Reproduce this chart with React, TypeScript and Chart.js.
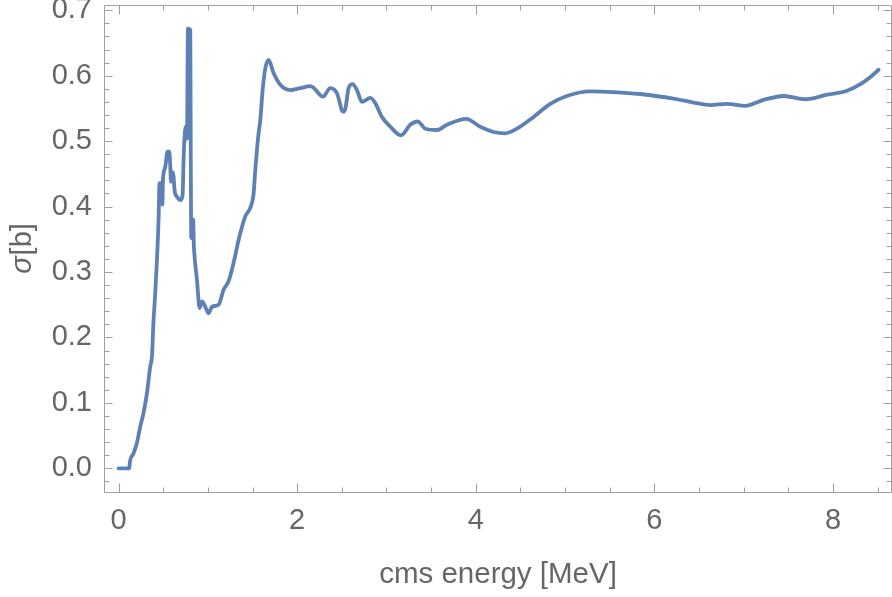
import React, { useEffect, useRef } from "react";
import { Chart, registerables } from "chart.js";

Chart.register(...registerables);

// cms energy [MeV]
const energy = [
  0, 0.12, 0.125, 0.168, 0.206, 0.243, 0.28, 0.318, 0.355, 0.374, 0.392, 0.411,
  0.43, 0.448, 0.459, 0.484, 0.49, 0.497, 0.504, 0.523, 0.549, 0.568, 0.579,
  0.587, 0.598, 0.616, 0.627, 0.654, 0.699, 0.717, 0.728, 0.739, 0.758, 0.766,
  0.777, 0.803, 0.808, 0.814, 0.82, 0.836, 0.842, 0.848, 0.878, 0.907, 0.934,
  0.971, 1.008, 1.046, 1.12, 1.176, 1.232, 1.288, 1.344, 1.419, 1.475, 1.512,
  1.531, 1.55, 1.568, 1.587, 1.613, 1.643, 1.68, 1.736, 1.811, 1.923, 2.035,
  2.147, 2.18, 2.289, 2.371, 2.446, 2.513, 2.54, 2.576, 2.62, 2.669, 2.725,
  2.819, 2.875, 2.949, 3.043, 3.162, 3.266, 3.349, 3.386, 3.434, 3.565, 3.677,
  3.893, 4.05, 4.2, 4.33, 4.461, 4.647, 4.834, 5.02, 5.28, 5.54, 5.84, 6.253,
  6.439, 6.626, 6.813, 7.018, 7.223, 7.447, 7.69, 7.933, 8.157, 8.306, 8.418,
  8.51,
];

// σ [b]
const sigma = [
  0, 0, 0.008, 0.023, 0.039, 0.064, 0.085, 0.115, 0.156, 0.171, 0.227, 0.268,
  0.319, 0.38, 0.436, 0.436, 0.403, 0.44, 0.451, 0.461, 0.484, 0.484, 0.461,
  0.438, 0.453, 0.446, 0.425, 0.415, 0.41, 0.418, 0.471, 0.507, 0.522, 0.504,
  0.672, 0.67, 0.5, 0.352, 0.38, 0.38, 0.345, 0.329, 0.288, 0.245, 0.255,
  0.247, 0.237, 0.247, 0.25, 0.273, 0.286, 0.314, 0.349, 0.385, 0.398, 0.42,
  0.456, 0.487, 0.512, 0.532, 0.578, 0.611, 0.624, 0.604, 0.586, 0.578, 0.581,
  0.584, 0.582, 0.568, 0.581, 0.573, 0.545, 0.55, 0.581, 0.587, 0.578, 0.56,
  0.566, 0.558, 0.537, 0.522, 0.509, 0.525, 0.53, 0.526, 0.519, 0.517, 0.525,
  0.534, 0.522, 0.514, 0.512, 0.519, 0.537, 0.557, 0.569, 0.576, 0.575, 0.572,
  0.564, 0.559, 0.555, 0.557, 0.554, 0.563, 0.569, 0.564, 0.571, 0.577, 0.587,
  0.598, 0.609,
];

const xMajorTicks = [0, 2, 4, 6, 8];
const xMinorTicks = [0.5, 1, 1.5, 2.5, 3, 3.5, 4.5, 5, 5.5, 6.5, 7, 7.5, 8.5];
const yMajorTicks = [0, 0.1, 0.2, 0.3, 0.4, 0.5, 0.6, 0.7];
const yMinorTicks = [
  -0.02, 0.02, 0.04, 0.06, 0.08, 0.12, 0.14, 0.16, 0.18, 0.22, 0.24, 0.26, 0.28,
  0.32, 0.34, 0.36, 0.38, 0.42, 0.44, 0.46, 0.48, 0.52, 0.54, 0.56, 0.58, 0.62,
  0.64, 0.66, 0.68,
];

const xTitle = "cms energy [MeV]";
const yTitleSymbol = "σ";
const yTitleUnit = "[b]";

const X_MIN = -0.163;
const X_MAX = 8.66;
const Y_MIN = -0.0376;
const Y_MAX = 0.708;

const LINE_COLOR = "rgb(94,129,181)";
const FRAME_COLOR = "#a0a0a0";
const TEXT_COLOR = "#666666";
const FONT_FAMILY = "'Liberation Sans', Arial, Helvetica, sans-serif";

const framePlugin = {
  id: "mmaFrame",
  beforeDatasetsDraw(chart: any) {
    const { ctx, chartArea: a, scales } = chart;
    const xs = scales.x;
    const ys = scales.y;
    ctx.save();
    ctx.strokeStyle = FRAME_COLOR;
    ctx.lineWidth = 1;
    const L = Math.round(a.left) + 0.5;
    const R = Math.round(a.right) - 0.5;
    const T = Math.round(a.top) + 0.5;
    const B = Math.round(a.bottom) - 0.5;
    ctx.beginPath();
    ctx.moveTo(L, T);
    ctx.lineTo(R, T);
    ctx.lineTo(R, B);
    ctx.lineTo(L, B);
    ctx.closePath();
    ctx.stroke();

    const xTick = (v: number, len: number) => {
      const px = Math.round(xs.getPixelForValue(v)) + 0.5;
      ctx.moveTo(px, B);
      ctx.lineTo(px, B - len);
      ctx.moveTo(px, T);
      ctx.lineTo(px, T + len);
    };
    const yTick = (v: number, len: number) => {
      const py = Math.round(ys.getPixelForValue(v)) + 0.5;
      ctx.moveTo(L, py);
      ctx.lineTo(L + len, py);
      ctx.moveTo(R, py);
      ctx.lineTo(R - len, py);
    };
    ctx.beginPath();
    xMajorTicks.forEach((v) => xTick(v, 9));
    xMinorTicks.forEach((v) => xTick(v, 5));
    yMajorTicks.forEach((v) => yTick(v, 8));
    yMinorTicks.forEach((v) => yTick(v, 5));
    ctx.stroke();
    ctx.restore();
  },
  afterDraw(chart: any) {
    // y-axis title with italic sigma, centred on the plot frame
    const { ctx, chartArea: a } = chart;
    const cy = (a.top + a.bottom) / 2;
    const cx = 23;
    ctx.save();
    ctx.translate(cx, cy);
    ctx.rotate(-Math.PI / 2);
    ctx.fillStyle = TEXT_COLOR;
    ctx.textBaseline = "middle";
    ctx.textAlign = "left";
    const fItalic = `italic 29px ${FONT_FAMILY}`;
    const fNormal = `29px ${FONT_FAMILY}`;
    ctx.font = fItalic;
    const w1 = ctx.measureText(yTitleSymbol).width;
    ctx.font = fNormal;
    const w2 = ctx.measureText(yTitleUnit).width;
    const start = -(w1 + w2) / 2;
    ctx.font = fItalic;
    ctx.fillText(yTitleSymbol, start, 0);
    ctx.font = fNormal;
    ctx.fillText(yTitleUnit, start + w1 + 1, 0);
    ctx.restore();
  },
};

export default function App() {
  const canvasRef = useRef<HTMLCanvasElement | null>(null);

  useEffect(() => {
    const canvas = canvasRef.current;
    if (!canvas) return;
    const points = energy.map((e, i) => ({ x: e, y: sigma[i] }));
    const chart = new Chart(canvas, {
      type: "line",
      data: {
        datasets: [
          {
            data: points,
            borderColor: LINE_COLOR,
            borderWidth: 3.8,
            pointRadius: 0,
            fill: false,
            cubicInterpolationMode: "monotone",
            borderJoinStyle: "round",
            borderCapStyle: "round",
          },
        ],
      },
      options: {
        animation: false,
        responsive: false,
        devicePixelRatio: 1,
        layout: { padding: { top: 5, right: 0, left: 0, bottom: 0 } },
        plugins: {
          legend: { display: false },
          tooltip: { enabled: false },
        },
        scales: {
          x: {
            type: "linear",
            min: X_MIN,
            max: X_MAX,
            afterBuildTicks: (s: any) => {
              s.ticks = xMajorTicks.map((v) => ({ value: v }));
            },
            afterFit: (s: any) => {
              s.height = 104;
              s.paddingLeft = 0;
              s.paddingRight = 0;
            },
            grid: { display: false, drawTicks: false },
            border: { display: false },
            ticks: {
              color: TEXT_COLOR,
              font: { family: FONT_FAMILY, size: 29 },
              padding: 11,
              maxRotation: 0,
              autoSkip: false,
              callback: (v: any) => String(v),
            },
            title: {
              display: true,
              text: xTitle,
              color: TEXT_COLOR,
              font: { family: FONT_FAMILY, size: 29.5 },
              padding: { top: 0, bottom: 4 },
            },
          },
          y: {
            type: "linear",
            min: Y_MIN,
            max: Y_MAX,
            afterBuildTicks: (s: any) => {
              s.ticks = yMajorTicks.map((v) => ({ value: v }));
            },
            afterFit: (s: any) => {
              s.width = 104;
              s.paddingTop = 0;
              s.paddingBottom = 0;
            },
            grid: { display: false, drawTicks: false },
            border: { display: false },
            ticks: {
              color: TEXT_COLOR,
              font: { family: FONT_FAMILY, size: 29 },
              padding: 12,
              autoSkip: false,
              callback: (v: any) => Number(v).toFixed(1),
            },
            title: { display: false },
          },
        },
      },
      plugins: [framePlugin],
    });
    return () => chart.destroy();
  }, []);

  return (
    <div
      style={{
        position: "fixed",
        left: 0,
        top: 0,
        width: 892,
        height: 597,
        background: "#ffffff",
      }}
    >
      <canvas
        ref={canvasRef}
        width={892}
        height={597}
        style={{ display: "block", width: 892, height: 597 }}
      />
    </div>
  );
}
